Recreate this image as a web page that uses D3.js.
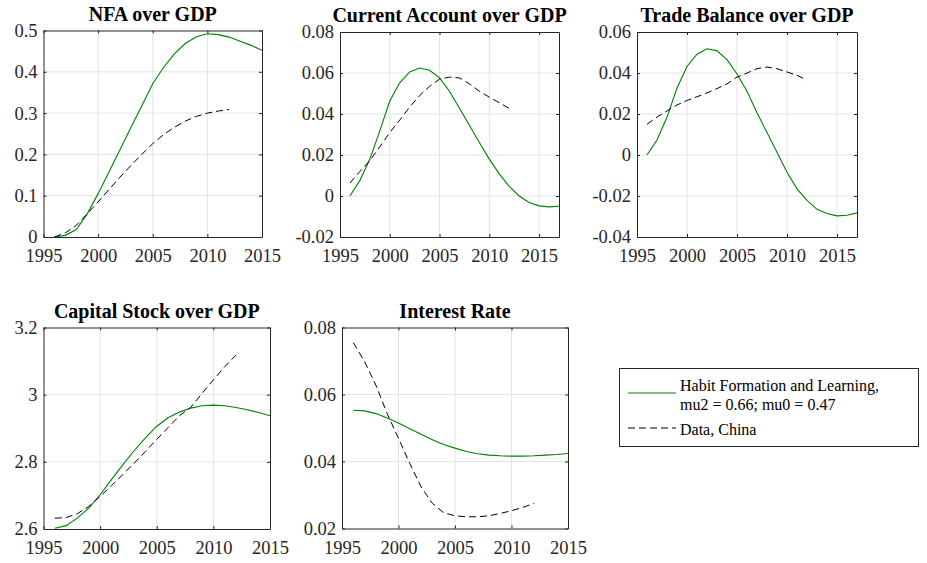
<!DOCTYPE html>
<html>
<head>
<meta charset="utf-8">
<script src="https://cdn.jsdelivr.net/npm/d3@7"></script>
<style>
  body { margin: 0; background: #fff; }
  svg { display: block; }
</style>
</head>
<body>
<svg width="927" height="563"></svg>
<script>
// years for the model run and the data
const modelYears15 = d3.range(1996, 2016);
const modelYears17 = d3.range(1996, 2018);
const dataYears = d3.range(1996, 2013);

// NFA over GDP
const nfaModel = [0, 0.004, 0.018, 0.056, 0.105, 0.158, 0.211, 0.265, 0.318, 0.371, 0.411, 0.444, 0.469, 0.485, 0.492, 0.490, 0.484, 0.474, 0.464, 0.452];
const nfaData = [0, 0.01, 0.028, 0.056, 0.085, 0.115, 0.145, 0.173, 0.2, 0.226, 0.248, 0.266, 0.281, 0.292, 0.30, 0.305, 0.309];

// Current account over GDP
const caModel = [0, 0.0076, 0.018, 0.0318, 0.0463, 0.0552, 0.0605, 0.0624, 0.0613, 0.0576, 0.0511, 0.0428, 0.0345, 0.0261, 0.018, 0.0108, 0.0047, 0.0, -0.0032, -0.0048, -0.0053, -0.005];
const caData = [0.0063, 0.012, 0.0173, 0.024, 0.031, 0.037, 0.0434, 0.049, 0.0535, 0.057, 0.058, 0.0576, 0.0547, 0.0511, 0.0482, 0.0455, 0.0427];

// Trade balance over GDP
const tbModel = [0, 0.0073, 0.0185, 0.0327, 0.0432, 0.0492, 0.0518, 0.0508, 0.0465, 0.0395, 0.0311, 0.0206, 0.011, 0.0013, -0.0084, -0.0165, -0.0221, -0.0265, -0.0285, -0.0297, -0.0294, -0.0282];
const tbData = [0.015, 0.0185, 0.0215, 0.0244, 0.0266, 0.0284, 0.0303, 0.0324, 0.0347, 0.038, 0.040, 0.0421, 0.0429, 0.0421, 0.0405, 0.0389, 0.0365];

// Capital stock over GDP
const kModel = [2.602, 2.61, 2.633, 2.662, 2.702, 2.747, 2.791, 2.833, 2.871, 2.906, 2.931, 2.948, 2.96, 2.967, 2.969, 2.967, 2.962, 2.955, 2.947, 2.937];
const kData = [2.632, 2.634, 2.646, 2.667, 2.697, 2.729, 2.762, 2.796, 2.831, 2.867, 2.902, 2.937, 2.962, 3.004, 3.044, 3.083, 3.118];

// Interest rate
const rModel = [0.0553, 0.0551, 0.0543, 0.053, 0.0515, 0.0498, 0.0481, 0.0465, 0.0451, 0.044, 0.043, 0.0423, 0.0419, 0.0417, 0.0416, 0.0416, 0.0417, 0.0419, 0.0421, 0.0424];
const rData = [0.0755, 0.0698, 0.0628, 0.0543, 0.0469, 0.0394, 0.0324, 0.0275, 0.0247, 0.0238, 0.0235, 0.0235, 0.0238, 0.0245, 0.0253, 0.0263, 0.0275];

// ticks
const xTicks = [1995, 2000, 2005, 2010, 2015];
const nfaTicks = [0, 0.1, 0.2, 0.3, 0.4, 0.5];
const nfaLabels = ["0", "0.1", "0.2", "0.3", "0.4", "0.5"];
const caTicks = [-0.02, 0, 0.02, 0.04, 0.06, 0.08];
const caLabels = ["-0.02", "0", "0.02", "0.04", "0.06", "0.08"];
const tbTicks = [-0.04, -0.02, 0, 0.02, 0.04, 0.06];
const tbLabels = ["-0.04", "-0.02", "0", "0.02", "0.04", "0.06"];
const kTicks = [2.6, 2.8, 3, 3.2];
const kLabels = ["2.6", "2.8", "3", "3.2"];
const rTicks = [0.02, 0.04, 0.06, 0.08];
const rLabels = ["0.02", "0.04", "0.06", "0.08"];

const legendLabels = [["Habit Formation and Learning,", "mu2 = 0.66; mu0 = 0.47"], ["Data, China"]];

const green = "#008000";
const axisColor = "#262626";
const gridColor = "#e3e3e3";
const serif = "Liberation Serif";

const svg = d3.select("svg");

const panels = [
  { title: "NFA over GDP", box: [43.5, 262, 30.5, 237], xd: [1995, 2015], yd: [0, 0.5], yt: nfaTicks, yl: nfaLabels, my: modelYears15, m: nfaModel, d: nfaData },
  { title: "Current Account over GDP", box: [340, 559, 32, 237], xd: [1995, 2017], yd: [-0.02, 0.08], yt: caTicks, yl: caLabels, my: modelYears17, m: caModel, d: caData },
  { title: "Trade Balance over GDP", box: [637, 857, 32, 237], xd: [1995, 2017], yd: [-0.04, 0.06], yt: tbTicks, yl: tbLabels, my: modelYears17, m: tbModel, d: tbData },
  { title: "Capital Stock over GDP", box: [43.5, 270, 327.5, 529], xd: [1995, 2015], yd: [2.6, 3.2], yt: kTicks, yl: kLabels, my: modelYears15, m: kModel, d: kData },
  { title: "Interest Rate", box: [342, 568, 327.5, 528.5], xd: [1995, 2015], yd: [0.02, 0.08], yt: rTicks, yl: rLabels, my: modelYears15, m: rModel, d: rData }
];

panels.forEach((p, i) => {
  const [x0, x1, y0, y1] = p.box;
  const x = d3.scaleLinear().domain(p.xd).range([x0, x1]);
  const y = d3.scaleLinear().domain(p.yd).range([y1, y0]);
  const g = svg.append("g");

  // grid
  g.selectAll(".gx").data(xTicks.filter(t => t > p.xd[0] && t < p.xd[1])).enter().append("line")
    .attr("x1", d => x(d)).attr("x2", d => x(d)).attr("y1", y0).attr("y2", y1)
    .attr("stroke", gridColor).attr("stroke-width", 1);
  g.selectAll(".gy").data(p.yt.filter(t => t > p.yd[0] && t < p.yd[1])).enter().append("line")
    .attr("x1", x0).attr("x2", x1).attr("y1", d => y(d)).attr("y2", d => y(d))
    .attr("stroke", gridColor).attr("stroke-width", 1);

  // clip
  const clipId = "clip" + i;
  svg.append("clipPath").attr("id", clipId).append("rect")
    .attr("x", x0).attr("y", y0).attr("width", x1 - x0).attr("height", y1 - y0);

  const line = d3.line().x(d => x(d[0])).y(d => y(d[1]));

  g.append("path").datum(p.my.map((yr, k) => [yr, p.m[k]]))
    .attr("d", line).attr("fill", "none").attr("stroke", green).attr("stroke-width", 1.1)
    .attr("clip-path", `url(#${clipId})`);
  g.append("path").datum(dataYears.map((yr, k) => [yr, p.d[k]]))
    .attr("d", line).attr("fill", "none").attr("stroke", "#000").attr("stroke-width", 1)
    .attr("stroke-dasharray", "7,4")
    .attr("clip-path", `url(#${clipId})`);

  // axes (box with inward ticks)
  g.append("g").attr("transform", `translate(0,${y1})`)
    .call(d3.axisBottom(x).tickValues(xTicks).tickFormat(d3.format("d")).tickSizeInner(-3).tickSizeOuter(0).tickPadding(12));
  g.append("g").attr("transform", `translate(${x0},0)`)
    .call(d3.axisLeft(y).tickValues(p.yt).tickFormat((d, k) => p.yl[k]).tickSizeInner(-3).tickSizeOuter(0).tickPadding(6));
  g.append("g").attr("transform", `translate(0,${y0})`)
    .call(d3.axisTop(x).tickValues(xTicks).tickFormat("").tickSizeInner(-3).tickSizeOuter(0));
  g.append("g").attr("transform", `translate(${x1},0)`)
    .call(d3.axisRight(y).tickValues(p.yt).tickFormat("").tickSizeInner(-3).tickSizeOuter(0));

  g.selectAll("g").attr("font-family", serif).attr("font-size", 18.5);
  g.selectAll(".domain").attr("stroke", axisColor).attr("stroke-width", 1);
  g.selectAll(".tick line").attr("stroke", axisColor);
  g.selectAll(".tick text").attr("fill", axisColor)
    .attr("font-family", serif).attr("font-size", 18.5);

  // title
  g.append("text").attr("x", (x0 + x1) / 2).attr("y", y0 - 10)
    .attr("text-anchor", "middle").attr("font-family", serif)
    .attr("font-size", 20).attr("font-weight", "bold")
    .attr("fill", "#000").text(p.title);
});

// legend
const lg = svg.append("g");
lg.append("rect").attr("x", 619.5).attr("y", 368.5).attr("width", 299).attr("height", 78)
  .attr("fill", "#fff").attr("stroke", axisColor).attr("stroke-width", 1);
lg.append("line").attr("x1", 628).attr("x2", 676).attr("y1", 393).attr("y2", 393)
  .attr("stroke", green).attr("stroke-width", 1.1);
lg.append("line").attr("x1", 628).attr("x2", 676).attr("y1", 428).attr("y2", 428)
  .attr("stroke", "#000").attr("stroke-width", 1).attr("stroke-dasharray", "7,4");
const lt = lg.append("text").attr("fill", "#000").attr("font-family", serif).attr("font-size", 16);
lt.append("tspan").attr("x", 680).attr("y", 391).text(legendLabels[0][0]);
lt.append("tspan").attr("x", 680).attr("y", 410).text(legendLabels[0][1]);
lt.append("tspan").attr("x", 680).attr("y", 435).text(legendLabels[1][0]);
</script>
</body>
</html>
